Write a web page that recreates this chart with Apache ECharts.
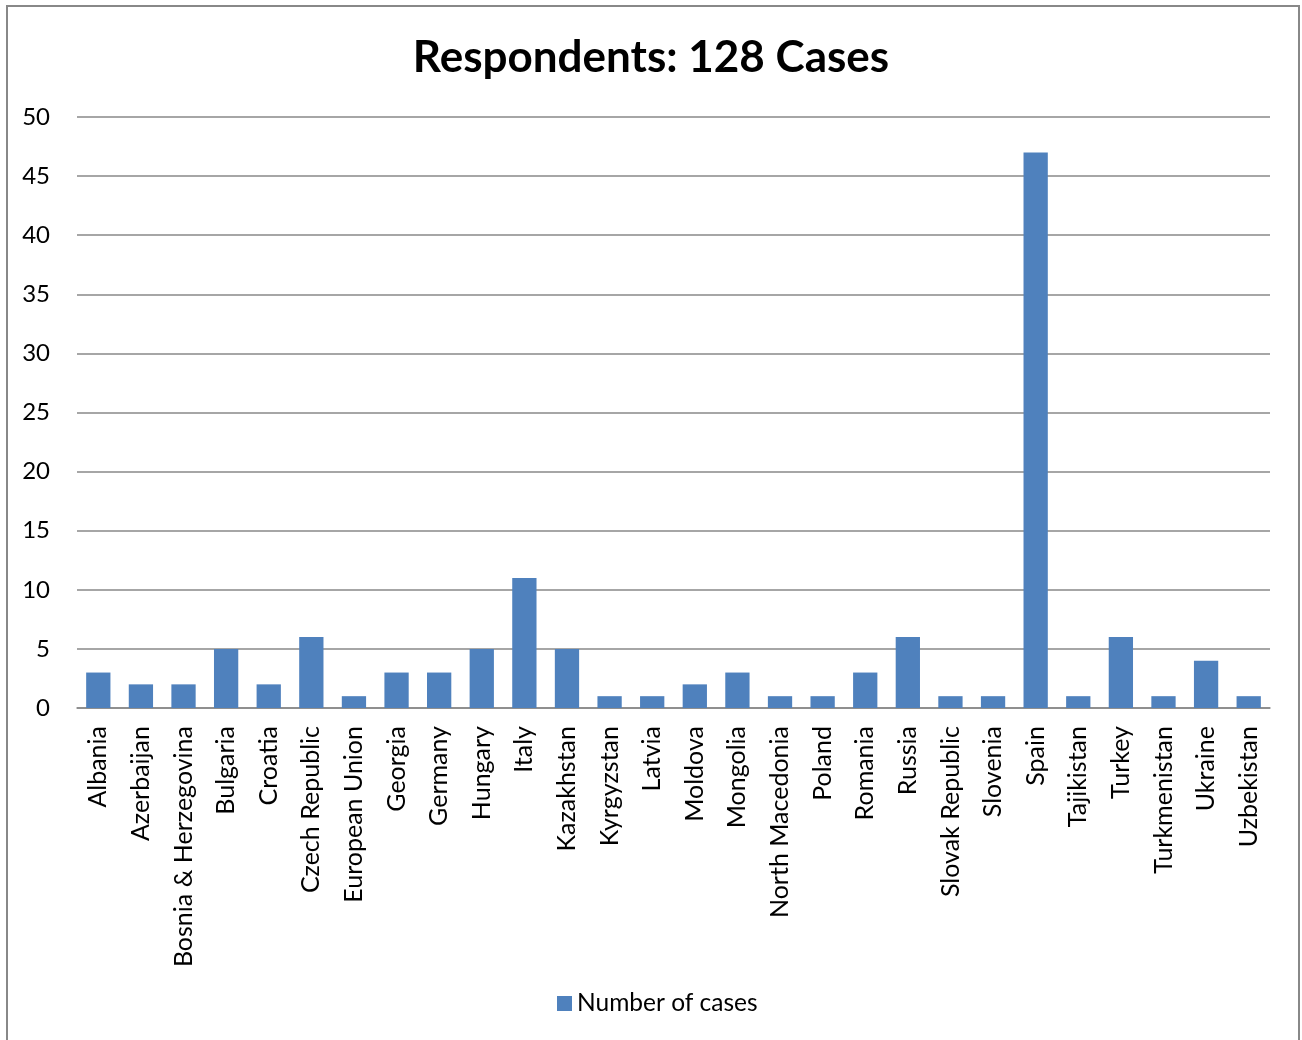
<!DOCTYPE html>
<html><head><meta charset="utf-8">
<script src="https://cdn.jsdelivr.net/npm/echarts@6/dist/echarts.min.js"></script>
<style>html,body{margin:0;padding:0;background:#fff}#c{width:1302px;height:1040px}</style>
</head><body><div id="c"></div>
<script>
const categories = ["Albania","Azerbaijan","Bosnia & Herzegovina","Bulgaria","Croatia","Czech Republic","European Union","Georgia","Germany","Hungary","Italy","Kazakhstan","Kyrgyzstan","Latvia","Moldova","Mongolia","North Macedonia","Poland","Romania","Russia","Slovak Republic","Slovenia","Spain","Tajikistan","Turkey","Turkmenistan","Ukraine","Uzbekistan"];
const cases = [3,2,2,5,2,6,1,3,3,5,11,5,1,1,2,3,1,1,3,6,1,1,47,1,6,1,4,1];
const titleText = "Respondents: 128 Cases";
const seriesName = "Number of cases";
const FONT = "Lato, 'Open Sans', sans-serif";
const chart = echarts.init(document.getElementById('c'));
chart.setOption({
  animation: false,
  backgroundColor: '#fff',
  graphic: [{type:'rect', shape:{x:7,y:6,width:1292,height:1060}, style:{fill:'none', stroke:'#888', lineWidth:2}, silent:true}],
  title: {text: titleText, left: 'center', top: 31, textStyle:{fontFamily:FONT, fontSize:44, fontWeight:'bold', color:'#000'}},
  legend: {data:[seriesName], bottom: 19, left: 552, itemWidth:15, itemHeight:15, icon:'rect', itemGap:7,
    textStyle:{fontFamily:FONT, fontSize:24.5, color:'#000'}},
  grid: {left:77, right:32, top:117, bottom:332, containLabel:false},
  xAxis: {type:'category', data:categories,
    axisLine:{lineStyle:{color:'#888', width:1.5}}, axisTick:{show:false},
    axisLabel:{rotate:90, interval:0, margin:18, fontFamily:FONT, fontSize:25, color:'#000'}},
  yAxis: {type:'value', min:0, max:50, interval:5,
    axisLine:{show:false}, axisTick:{show:false},
    splitLine:{lineStyle:{color:'#888', width:1.5}},
    axisLabel:{margin:27, fontFamily:FONT, fontSize:24, color:'#000'}},
  series: [{name:seriesName, type:'bar', data:cases, barWidth:'57%', itemStyle:{color:'#4F81BD'}}]
});
</script></body></html>
